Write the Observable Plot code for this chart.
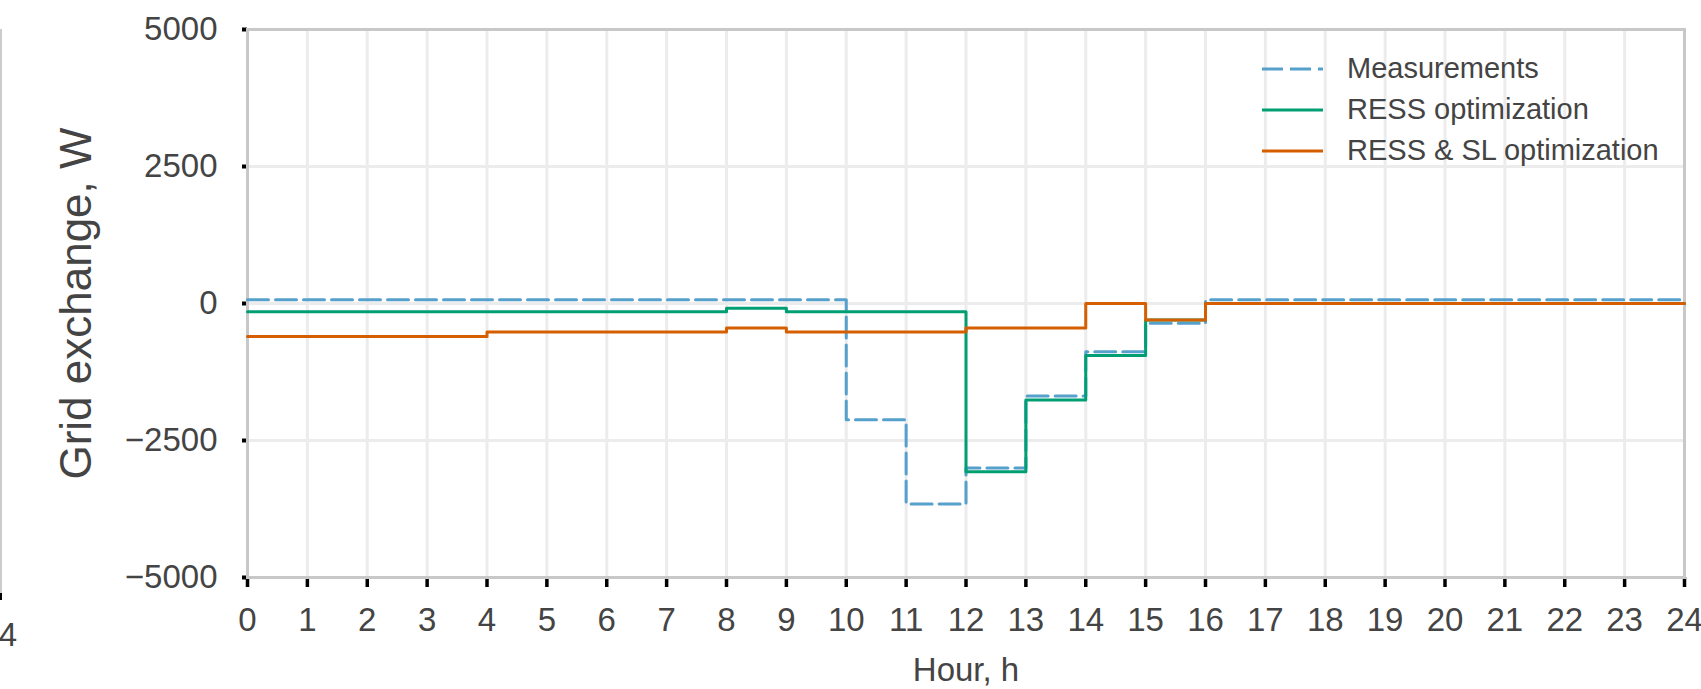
<!DOCTYPE html>
<html>
<head>
<meta charset="utf-8">
<script src="https://cdn.jsdelivr.net/npm/d3@7"></script>
<script src="https://cdn.jsdelivr.net/npm/@observablehq/plot@0.6"></script>
<style>
  html, body { margin: 0; padding: 0; background: #fff; }
  #wrap { position: relative; width: 1701px; height: 689px; overflow: hidden;
          font-family: "Liberation Sans", Arial, Helvetica, sans-serif; }
  #legend { position: absolute; left: 1262px; top: 48px; color: #444; font-size: 29px; }
  #legend .row { display: flex; align-items: center; height: 41px; white-space: nowrap; }
  #legend .row svg { width: 61px; height: 6px; margin-right: 24px; flex: none; }
  #edge { position: absolute; left: 0; top: 29px; width: 1.5px; height: 564px; background: #ccc; }
  #edgeTick { position: absolute; left: 0; top: 593px; width: 1.5px; height: 7px; background: #000; }
  #edgeLabel { position: absolute; left: -43px; width: 60px; top: 618px; text-align: right;
               font-size: 33px; line-height: 33px; color: #444; }
</style>
</head>
<body>
<div id="wrap">
  <div id="edge"></div><div id="edgeTick"></div><div id="edgeLabel">24</div>
  <div id="legend"></div>
</div>
<script>
// ---- data (hourly values, W) ----
const hours = [0,1,2,3,4,5,6,7,8,9,10,11,12,13,14,15,16,17,18,19,20,21,22,23,24];
const yTicks = [-5000, -2500, 0, 2500, 5000];
const seriesNames = ["Measurements", "RESS optimization", "RESS & SL optimization"];
const seriesColors = ["#56A0CC", "#009E73", "#D55E00"];
// values for hour intervals [h, h+1), h = 0..23
const measurements = [70,70,70,70,70,70,70,70,70,70,-2120,-3660,-3000,-1690,-880,-360,70,70,70,70,70,70,70,70];
const ressOpt      = [-150,-150,-150,-150,-150,-150,-150,-150,-85,-150,-150,-150,-3070,-1760,-950,-300,0,0,0,0,0,0,0,0];
const ressSlOpt    = [-600,-600,-600,-600,-520,-520,-520,-520,-445,-520,-520,-520,-445,-445,0,-300,0,0,0,0,0,0,0,0];

const toSteps = (vals) => hours.map((h, i) => ({hour: h, value: vals[Math.min(i, vals.length - 1)]}));
const dMeas = toSteps(measurements);
const dRess = toSteps(ressOpt);
const dRessSl = toSteps(ressSlOpt);

const font = '"Liberation Sans", Arial, Helvetica, sans-serif';
const fmtY = d3.format("d");

const chart = Plot.plot({
  width: 1701,
  height: 689,
  marginTop: 29,
  marginRight: 17,
  marginBottom: 112,
  marginLeft: 247,
  style: {fontFamily: font, fontSize: "33px", color: "#444", background: "#fff"},
  x: {domain: [0, 24], label: null},
  y: {domain: [-5000, 5000], label: null},
  marks: [
    Plot.gridX(hours, {stroke: "#ececec", strokeWidth: 3, strokeOpacity: 1}),
    Plot.gridY(yTicks, {stroke: "#ececec", strokeWidth: 3, strokeOpacity: 1}),
    Plot.axisX({ticks: hours, tickSize: 10, tickPadding: 20, stroke: "#000", strokeWidth: 3.5,
                fill: "#444", fontSize: 33, label: null}),
    Plot.axisY({ticks: yTicks, tickSize: 5, tickPadding: 25, stroke: "#000", strokeWidth: 4,
                fill: "#444", fontSize: 33, tickFormat: fmtY, label: null}),
    Plot.frame({stroke: "#c8c8c8", strokeWidth: 3}),
    Plot.line(dMeas, {x: "hour", y: "value", curve: "step-after", stroke: seriesColors[0],
                      strokeWidth: 3, strokeDasharray: "21,7"}),
    Plot.line(dRess, {x: "hour", y: "value", curve: "step-after", stroke: seriesColors[1], strokeWidth: 3}),
    Plot.line(dRessSl, {x: "hour", y: "value", curve: "step-after", stroke: seriesColors[2], strokeWidth: 3}),
    Plot.text(["Grid exchange, W"], {frameAnchor: "left", dx: -171, rotate: -90, fontSize: 44,
                                     fill: "#444", textAnchor: "middle"}),
    Plot.text(["Hour, h"], {frameAnchor: "bottom", dy: 103, lineAnchor: "bottom", fontSize: 33,
                            fill: "#444", textAnchor: "middle"})
  ]
});
document.getElementById("wrap").prepend(chart);

// legend
const legend = document.getElementById("legend");
seriesNames.forEach((name, i) => {
  const row = document.createElement("div");
  row.className = "row";
  const dash = i === 0 ? ' stroke-dasharray="21,7"' : '';
  row.innerHTML = `<svg viewBox="0 0 61 6"><line x1="0" y1="3" x2="61" y2="3" stroke="${seriesColors[i]}" stroke-width="3"${dash}/></svg><span>${name}</span>`;
  legend.appendChild(row);
});
</script>
</body>
</html>
